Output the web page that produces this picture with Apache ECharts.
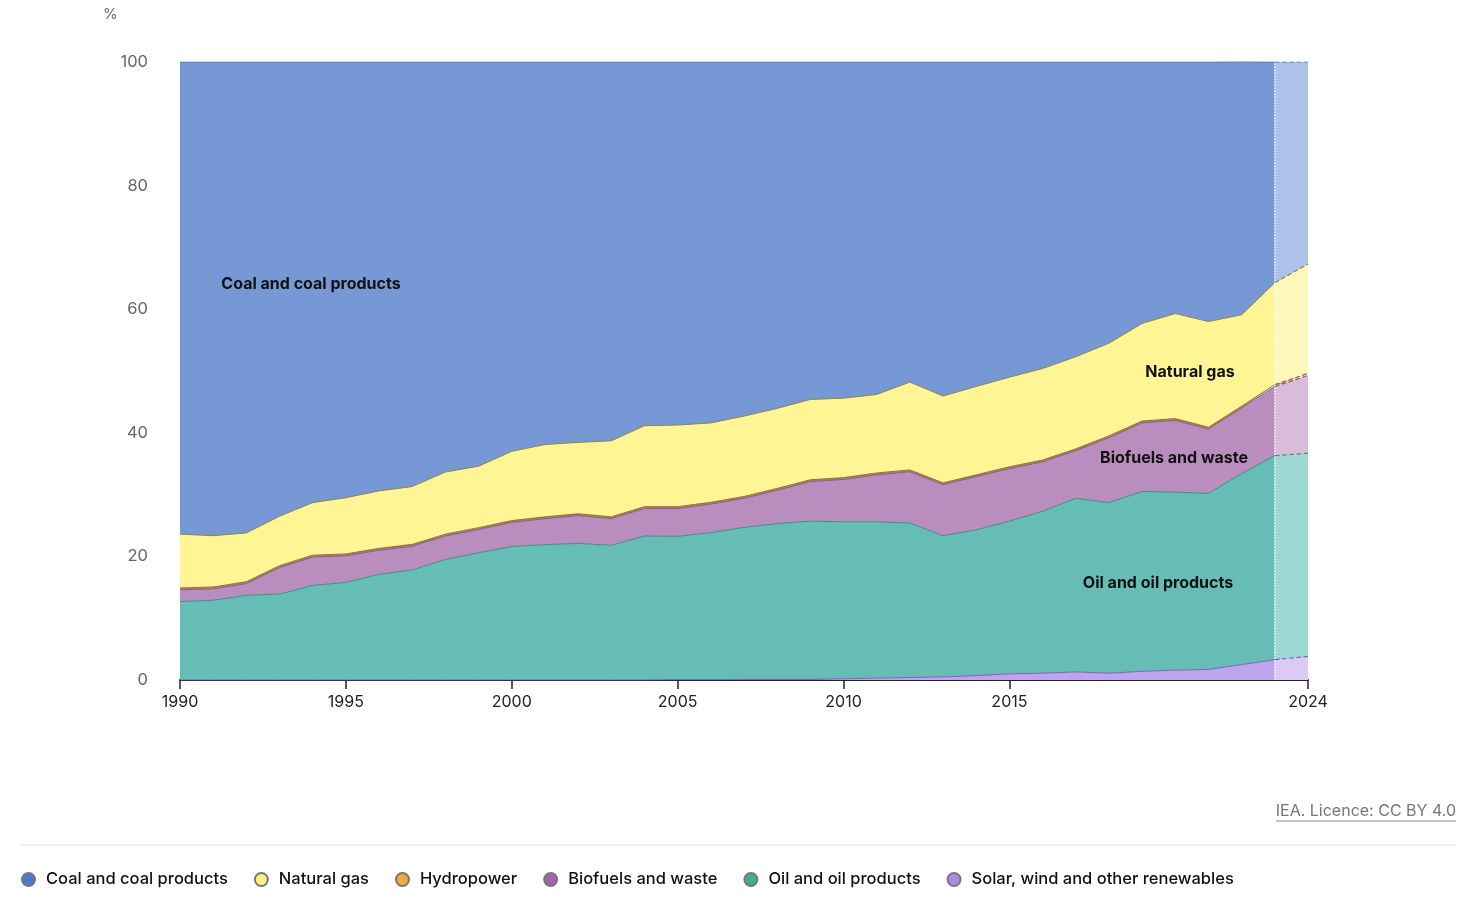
<!DOCTYPE html>
<html>
<head>
<meta charset="utf-8">
<script src="https://cdn.jsdelivr.net/npm/echarts@6/dist/echarts.min.js"></script>
<style>
html,body{margin:0;padding:0;background:#fff;}
#chart{width:1472px;height:897px;}
</style>
</head>
<body>
<div id="chart"></div>
<script>
const years = ['1990','1991','1992','1993','1994','1995','1996','1997','1998','1999','2000','2001','2002','2003','2004','2005','2006','2007','2008','2009','2010','2011','2012','2013','2014','2015','2016','2017','2018','2019','2020','2021','2022','2023','2024'];
const solar = [0,0,0,0,0,0,0,0,0,0,0,0,0,0,0,0.05,0.05,0.1,0.1,0.1,0.2,0.3,0.4,0.5,0.7,1.0,1.1,1.3,1.1,1.4,1.6,1.7,2.5,3.3,3.8];
const oil = [12.7,12.9,13.7,13.9,15.3,15.8,17.1,17.8,19.5,20.6,21.6,21.9,22.1,21.8,23.3,23.2,23.8,24.6,25.2,25.6,25.4,25.3,25.0,22.85,23.6,24.7,26.2,28.1,27.6,29.1,28.8,28.5,30.9,33.0,32.9];
const biofuels = [1.9,1.85,1.9,4.3,4.6,4.3,3.9,3.85,3.8,3.75,3.9,4.2,4.5,4.3,4.45,4.5,4.6,4.7,5.4,6.4,6.85,7.6,8.3,8.25,8.6,8.5,8.0,7.7,10.5,11.1,11.6,10.4,10.6,11.2,12.6];
const hydro = [0.3,0.3,0.3,0.3,0.3,0.3,0.3,0.3,0.3,0.3,0.3,0.3,0.3,0.3,0.3,0.3,0.3,0.3,0.3,0.3,0.3,0.3,0.3,0.3,0.3,0.3,0.3,0.3,0.3,0.3,0.3,0.3,0.3,0.3,0.3];
const gas = [8.7,8.3,7.9,8.0,8.5,9.1,9.3,9.35,10.05,9.95,11.2,11.7,11.55,12.3,13.1,13.2,12.85,13.0,12.95,13.0,12.85,12.7,14.2,14.05,14.3,14.5,14.8,14.9,15.0,15.8,17.0,17.1,14.8,16.5,17.7];
const coal = [76.4,76.65,76.2,73.5,71.3,70.5,69.4,68.7,66.35,65.4,63.0,61.9,61.55,61.3,58.85,58.74,58.4,57.3,56.05,54.6,54.4,53.8,51.8,54.05,52.5,51.0,49.6,47.7,45.5,42.3,40.7,42.0,40.94,35.7,32.7];
const projStart = '2023';

const defs = [
  {name:'Solar, wind and other renewables', data:solar, dot:'#a98be6', area:'#bea4ec', areaP:'#dacbf4', line:'#7e62b8'},
  {name:'Oil and oil products', data:oil, dot:'#45a89a', area:'#66bdb5', areaP:'#9ed8d4', line:'#3f8c84'},
  {name:'Biofuels and waste', data:biofuels, dot:'#a066a8', area:'#b98ebe', areaP:'#d8bcd9', line:'#8a5a8e'},
  {name:'Hydropower', data:hydro, dot:'#f0a848', area:'#a68a50', areaP:'#c4a870', line:'#8a7040'},
  {name:'Natural gas', data:gas, dot:'#fff27a', area:'#fff595', areaP:'#fff8bb', line:'#8a8450'},
  {name:'Coal and coal products', data:coal, dot:'#4a78d0', area:'#7699d6', areaP:'#adc2e8', line:'#4f6fae'}
];
const pIdx = years.indexOf(projStart);
const series = [];
defs.forEach(d => {
  series.push({
    name:d.name, type:'line', stack:'hist', symbol:'none', smooth:false,
    data:d.data.map((v,i)=> i<=pIdx ? v : null),
    lineStyle:{width:1, color:d.line},
    areaStyle:{color:d.area, opacity:1},
    itemStyle:{color:d.dot, borderColor:'#777', borderWidth:0.6},
    emphasis:{disabled:true}
  });
});
defs.forEach((d,k) => {
  const s = {
    name:d.name, type:'line', stack:'proj', symbol:'none',
    data:d.data.map((v,i)=> i>=pIdx ? v : null),
    lineStyle:{width:1.2, color:d.line, type:'dashed'},
    areaStyle:{color:d.areaP, opacity:1},
    itemStyle:{color:d.dot, borderColor:'#777', borderWidth:0.6},
    emphasis:{disabled:true}
  };
  if (k === defs.length-1) {
    s.markLine = {silent:true, symbol:'none', label:{show:false},
      lineStyle:{color:'rgba(255,255,255,0.9)', type:'dotted', width:1.5},
      data:[{xAxis:projStart}]};
  }
  series.push(s);
});

const labelIdx = [0,5,10,15,20,25,34];
const chart = echarts.init(document.getElementById('chart'));
chart.setOption({
  animation:false,
  textStyle:{fontFamily:'Inter, "Noto Sans", sans-serif'},
  grid:{left:180, right:164, top:62, bottom:217},
  legend:{
    left:21, top:871, padding:0, icon:'circle', itemWidth:13, itemHeight:13, itemGap:26,
    textStyle:{fontSize:16.5, fontWeight:500, color:'#111', fontFamily:'Inter, sans-serif', padding:[0,0,0,6]},
    data:['Coal and coal products','Natural gas','Hydropower','Biofuels and waste','Oil and oil products','Solar, wind and other renewables']
  },
  xAxis:{
    type:'category', boundaryGap:false, data:years,
    axisLine:{lineStyle:{color:'#222', width:2}},
    axisTick:{length:9, lineStyle:{color:'#222', width:1.5}, interval:(i)=>labelIdx.includes(i)},
    axisLabel:{interval:(i)=>labelIdx.includes(i), fontSize:16, color:'#222', margin:14},
    splitLine:{show:false}
  },
  yAxis:{
    type:'value', min:0, max:100, interval:20,
    axisLine:{show:false}, axisTick:{show:false},
    axisLabel:{fontSize:16.5, color:'#666', margin:32},
    splitLine:{lineStyle:{color:'#e4e4e4', width:1}}
  },
  series:series,
  graphic:[
    {type:'text', left:103, top:7, style:{text:'%', fontSize:15, fill:'#666', fontFamily:'Inter, sans-serif'}},
    {type:'text', x:311, y:284, style:{text:'Coal and coal products', fontSize:16, fontWeight:'bold', fill:'#111', align:'center', verticalAlign:'middle', fontFamily:'Inter, sans-serif'}, z:100},
    {type:'text', x:1190, y:372, style:{text:'Natural gas', fontSize:16, fontWeight:'bold', fill:'#111', align:'center', verticalAlign:'middle', fontFamily:'Inter, sans-serif'}, z:100},
    {type:'text', x:1174, y:458, style:{text:'Biofuels and waste', fontSize:16, fontWeight:'bold', fill:'#111', align:'center', verticalAlign:'middle', fontFamily:'Inter, sans-serif'}, z:100},
    {type:'text', x:1158, y:583, style:{text:'Oil and oil products', fontSize:16, fontWeight:'bold', fill:'#111', align:'center', verticalAlign:'middle', fontFamily:'Inter, sans-serif'}, z:100},
    {type:'text', x:1456, y:811, style:{text:'IEA. Licence: CC BY 4.0', fontSize:16, fill:'#777', align:'right', verticalAlign:'middle', fontFamily:'Inter, sans-serif'}},
    {type:'line', shape:{x1:1276, y1:821, x2:1456, y2:821}, style:{stroke:'#888', lineWidth:1}},
    {type:'line', shape:{x1:20, y1:845, x2:1456, y2:845}, style:{stroke:'#e6e6e6', lineWidth:1}}
  ]
});
</script>
</body>
</html>
